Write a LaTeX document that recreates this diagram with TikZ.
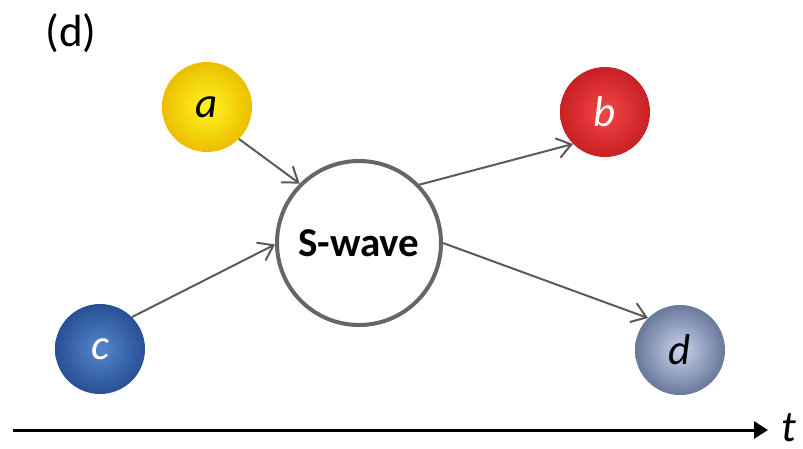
\documentclass[tikz,border=0pt]{standalone}
\usepackage{fontspec}
\setmainfont{Carlito}
\usetikzlibrary{arrows.meta}
\definecolor{linegray}{HTML}{5A5A5A}
\definecolor{ringgray}{HTML}{666666}
\tikzset{
  ball/.style={circle, minimum size=90pt, inner sep=0pt, shading=radial},
  lbl/.style={font=\fontsize{43}{50}\selectfont\itshape},
  conn/.style={draw=linegray, line width=2pt, -{Straight Barb[length=14pt,width=20pt]}},
}
\begin{document}
\begin{tikzpicture}[x=1pt,y=-1pt]
\useasboundingbox (0,0) rectangle (803,448);
\node (tag) at (71,33) {\fontsize{45}{50}\selectfont (d)};
\node[ball, inner color={rgb,255:red,255;green,245;blue,30}, outer color={rgb,255:red,235;green,190;blue,0}, lbl] (a) at (207,107) {a};
\node[ball, inner color={rgb,255:red,245;green,70;blue,70}, outer color={rgb,255:red,200;green,32;blue,36}, lbl, text=white] (b) at (605,112) {b};
\node[ball, inner color={rgb,255:red,85;green,135;blue,205}, outer color={rgb,255:red,40;green,80;blue,150}, lbl, text=white] (c) at (100,349) {c};
\node[ball, inner color={rgb,255:red,198;green,212;blue,236}, outer color={rgb,255:red,105;green,120;blue,155}, lbl] (d) at (680,350) {d};
\node[circle, draw=ringgray, line width=4pt, fill=white, minimum size=164pt, inner sep=0pt, font=\fontsize{41}{48}\selectfont\bfseries] (S) at (359,243) {S-wave};
\draw[conn] (a.-45) -- (S.135);
\draw[conn] (c.45) -- (S.181);
\draw[conn] (S.44) -- (b.225);
\draw[conn] (S.0) -- (d.135);
\coordinate (t0) at (13,430);
\coordinate (t1) at (768,430);
\node[inner sep=0pt, font=\fontsize{44}{50}\selectfont\itshape] (t) at (789,428) {t};
\draw[line width=3pt, -{Triangle[length=14pt,width=17pt]}] (t0) -- (t1);
\end{tikzpicture}
\end{document}
